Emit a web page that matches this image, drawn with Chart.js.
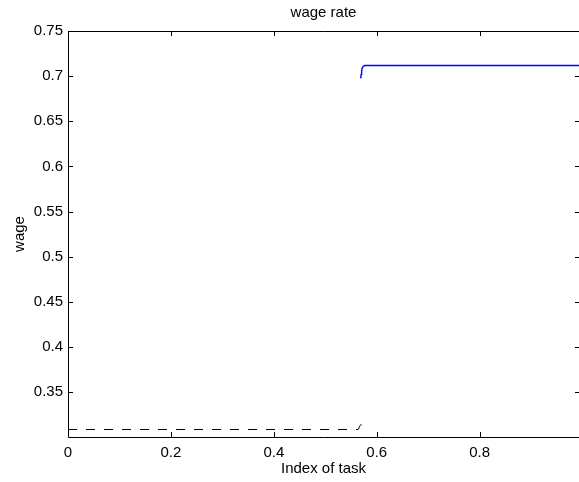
<!DOCTYPE html>
<html>
<head>
<meta charset="utf-8">
<script src="https://cdn.jsdelivr.net/npm/chart.js@4/dist/chart.umd.min.js"></script>
<style>
  html, body { margin: 0; padding: 0; background: #fff; }
  #wrap { width: 579px; height: 482px; }
</style>
</head>
<body>
<div id="wrap"><canvas id="wageChart" width="579" height="482"></canvas></div>
<script>
// values
const xTicks = [0, 0.2, 0.4, 0.6, 0.8];
const yTicks = [0.35, 0.4, 0.45, 0.5, 0.55, 0.6, 0.65, 0.7, 0.75];

const lowX = [0, 0.5640, 0.5655, 0.5665, 0.5680, 0.5705];
const lowY = [0.3088, 0.3088, 0.3105, 0.3122, 0.3136, 0.3142];

const highX = [0.5688, 0.5697, 0.5706, 0.5716, 0.5735, 0.577, 0.993];
const highY = [0.6975, 0.7020, 0.7060, 0.7088, 0.7108, 0.7118, 0.7118];

const toPoints = (xs, ys) => xs.map((x, i) => ({ x: x, y: ys[i] }));

// box and inward tick marks, matlab style
const boxPlugin = {
    id: "box",
    afterDraw(chart) {
        const { ctx, chartArea: a, scales } = chart;
        ctx.save();
        ctx.strokeStyle = "#000";
        ctx.lineWidth = 1;
        ctx.beginPath();
        ctx.moveTo(a.left + 0.5, a.top + 0.5);
        ctx.lineTo(a.right + 1, a.top + 0.5);
        ctx.moveTo(a.left + 0.5, a.top);
        ctx.lineTo(a.left + 0.5, a.bottom + 0.5);
        ctx.lineTo(a.right + 1, a.bottom + 0.5);
        const len = 5;
        scales.x.ticks.forEach(t => {
            const px = Math.round(scales.x.getPixelForValue(t.value)) + 0.5;
            ctx.moveTo(px, a.bottom);
            ctx.lineTo(px, a.bottom - len);
            ctx.moveTo(px, a.top);
            ctx.lineTo(px, a.top + len);
        });
        scales.y.ticks.forEach(t => {
            const py = Math.round(scales.y.getPixelForValue(t.value)) + 0.5;
            ctx.moveTo(a.left, py);
            ctx.lineTo(a.left + len, py);
            ctx.moveTo(a.right + 1, py);
            ctx.lineTo(a.right + 1 - len, py);
        });
        ctx.stroke();
        ctx.restore();
    }
};

const font = { family: "'Liberation Sans', Arial, sans-serif", size: 15 };

new Chart(document.getElementById("wageChart"), {
    type: "line",
    data: {
        datasets: [{
            data: toPoints(lowX, lowY),
            borderColor: "#000",
            borderWidth: 1,
            borderDash: [9, 9],
            pointRadius: 0,
            tension: 0
        }, {
            data: toPoints(highX, highY),
            borderColor: "#0000ff",
            borderWidth: 1.4,
            pointRadius: 0,
            tension: 0
        }]
    },
    options: {
        responsive: false,
        animation: false,
        layout: { padding: { left: 0, right: 0, top: 0, bottom: 0 } },
        plugins: {
            legend: { display: false },
            tooltip: { enabled: false },
            title: {
                display: true,
                fullSize: false,
                text: "wage rate",
                color: "#000",
                font: { ...font, weight: "normal" },
                padding: { top: 4, bottom: 9 }
            }
        },
        scales: {
            x: {
                type: "linear",
                min: 0,
                max: 0.993,
                afterBuildTicks: s => { s.ticks = xTicks.map(v => ({ value: v })); },
                afterFit: s => { s.height = 45; },
                grid: { display: false, drawTicks: false },
                border: { display: false },
                ticks: {
                    color: "#000",
                    font: font,
                    padding: 7,
                    maxRotation: 0,
                    callback: v => String(v)
                },
                title: {
                    display: true,
                    text: "Index of task",
                    color: "#000",
                    font: font,
                    padding: { top: 0, bottom: 4 }
                }
            },
            y: {
                type: "linear",
                min: 0.3005,
                max: 0.75,
                afterBuildTicks: s => { s.ticks = yTicks.map(v => ({ value: v })); },
                afterFit: s => { s.width = 68; },
                grid: { display: false, drawTicks: false },
                border: { display: false },
                ticks: {
                    color: "#000",
                    font: font,
                    padding: 5,
                    callback: v => String(v)
                },
                title: {
                    display: true,
                    text: "wage",
                    color: "#000",
                    font: font,
                    padding: { top: 11, bottom: 0 }
                }
            }
        }
    },
    plugins: [boxPlugin]
});
</script>
</body>
</html>
